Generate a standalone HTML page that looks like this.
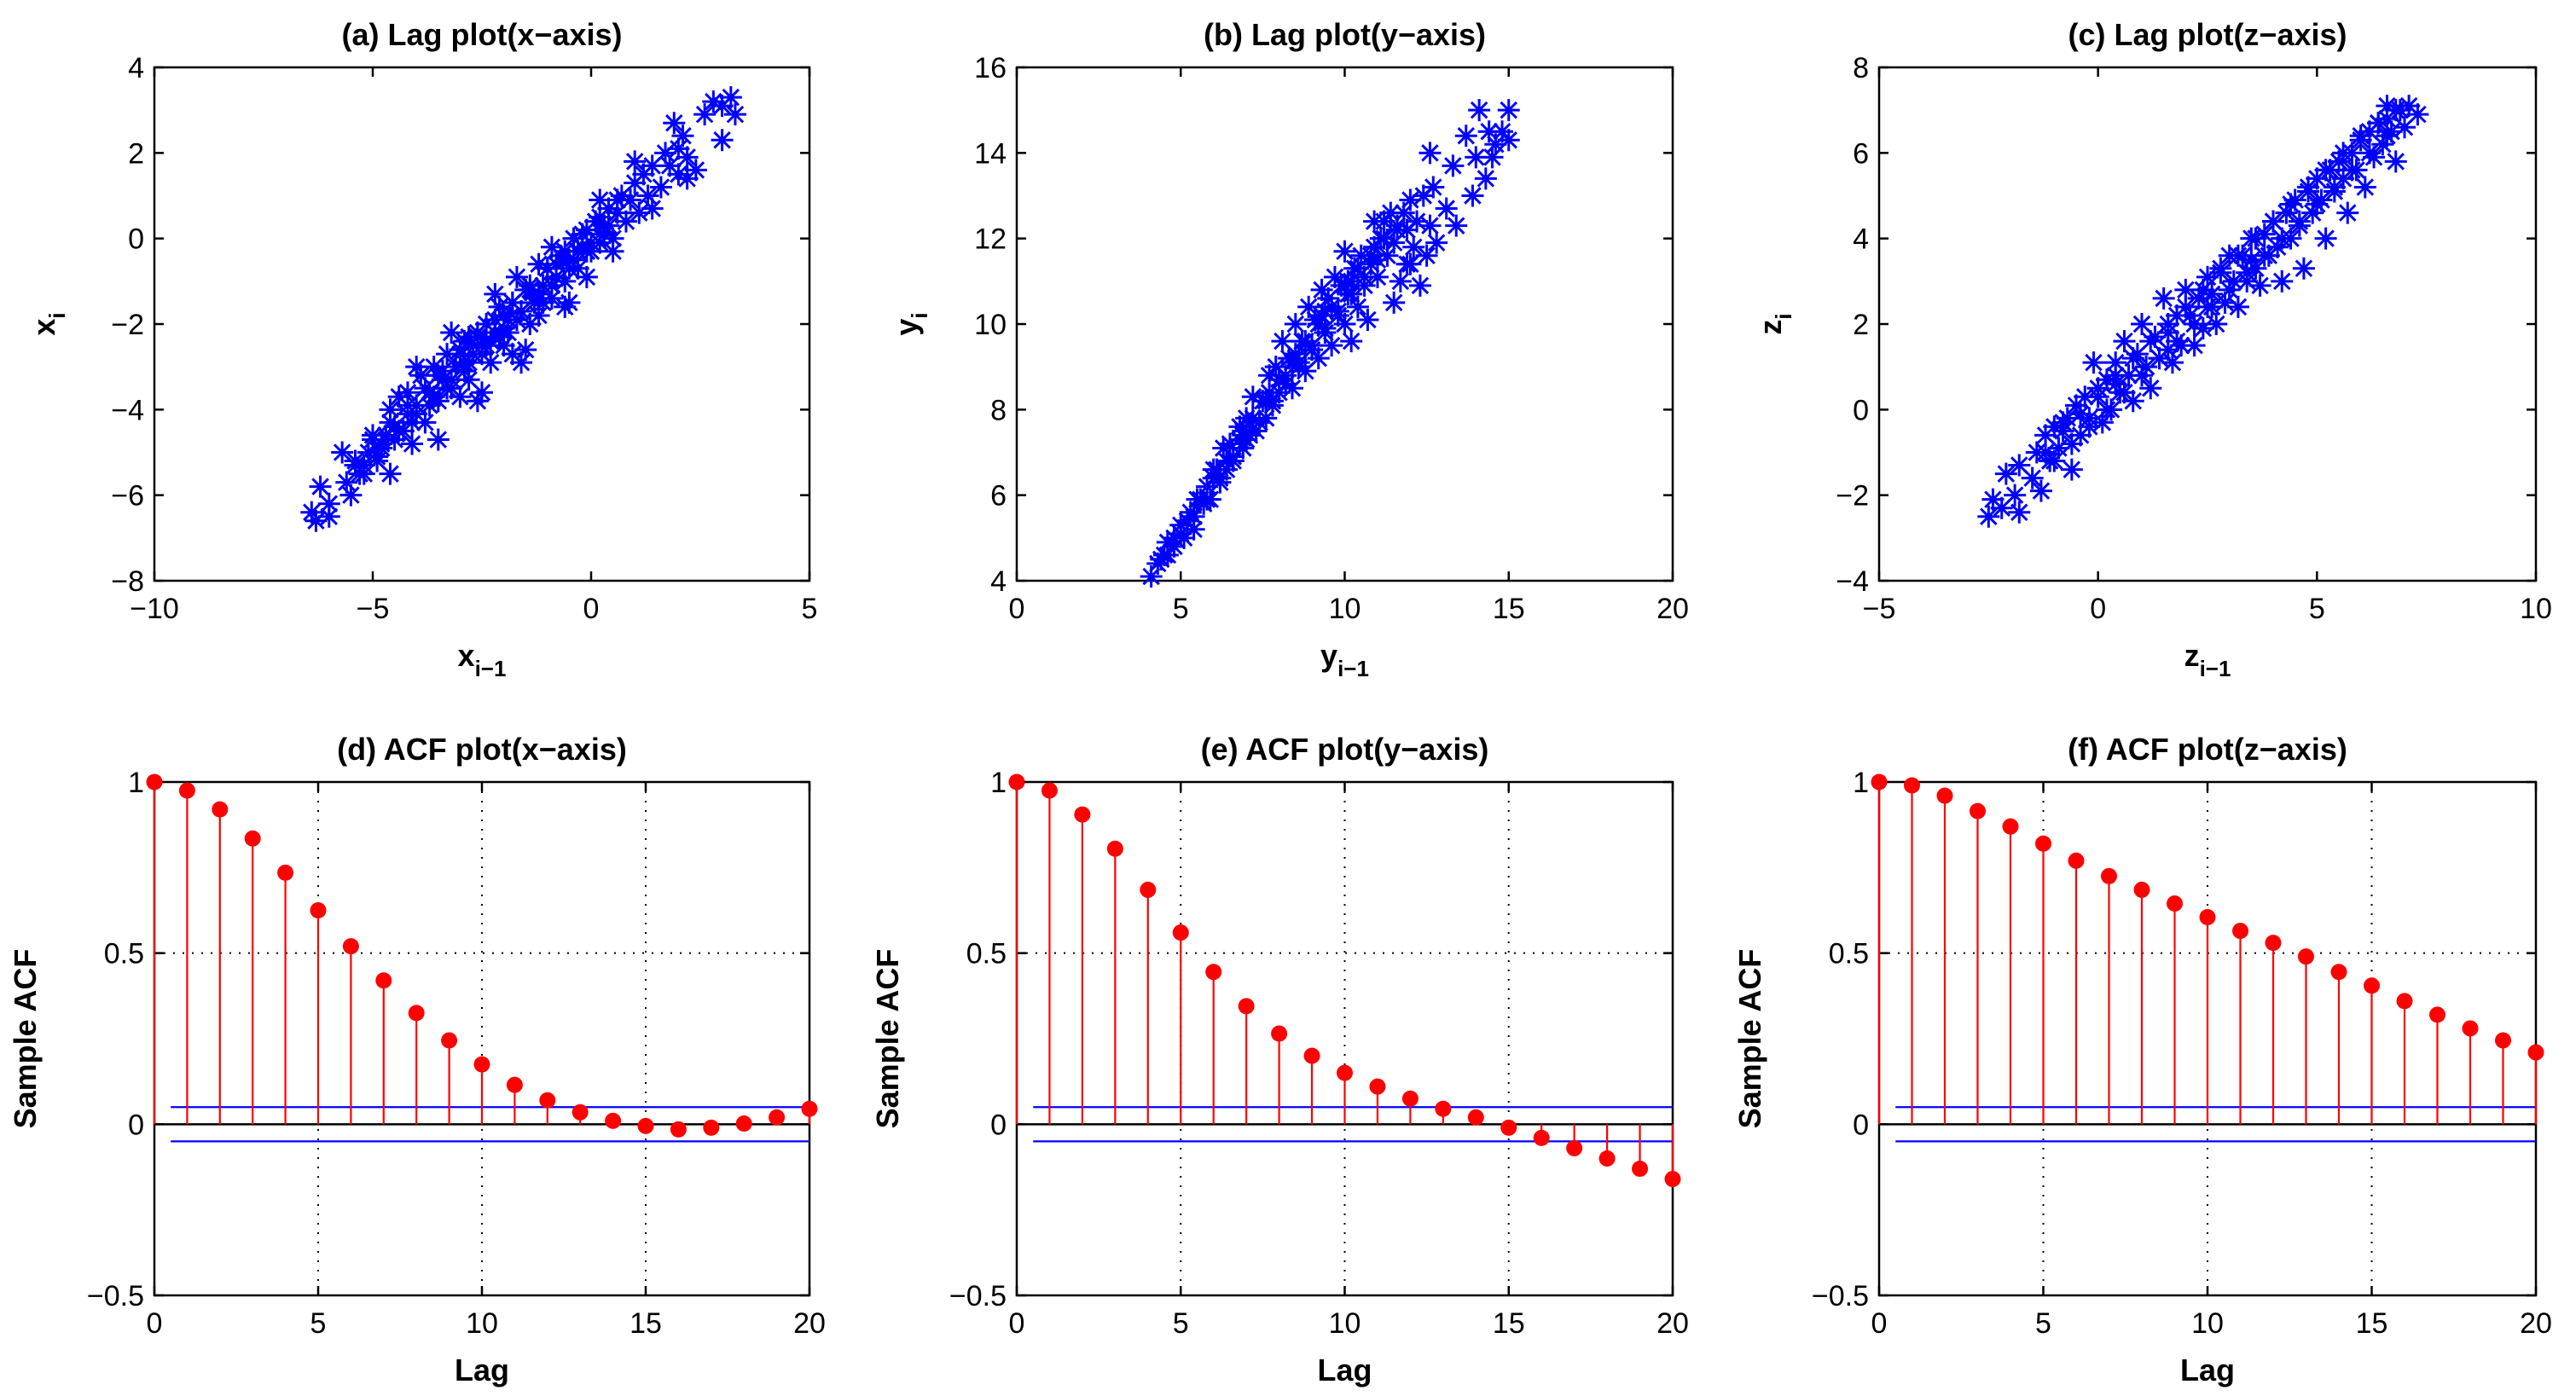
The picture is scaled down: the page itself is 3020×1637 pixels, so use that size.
<!DOCTYPE html>
<html><head><meta charset="utf-8"><style>
html,body{margin:0;padding:0;background:#fff;}
svg{display:block;font-family:"Liberation Sans",Arial,sans-serif;}
</style></head><body>
<svg id="fig" width="3020" height="1637" viewBox="0 0 3020 1637"></svg>
<script>
// ---- data ----
const lagA_prev=[-6.4,-6.3,-6.2,-6.0,-6.0,-5.7,-5.6,-5.5,-5.4,-5.2,-5.0,-4.9,-4.8,-4.6,-4.6,-4.5,-4.4,-4.3,-4.2,-4.1,-4.0,-3.9,-3.8,-3.7,-3.6,-3.5,-3.5,-3.4,-3.3,-3.2,-3.1,-3.0,-3.0,-2.9,-2.8,-2.8,-2.7,-2.6,-2.5,-2.5,-2.4,-2.3,-2.2,-2.1,-2.0,-1.9,-1.8,-1.8,-1.6,-1.6,-1.5,-1.5,-1.4,-1.3,-1.2,-1.2,-1.1,-1.0,-0.9,-0.8,-0.7,-0.6,-0.6,-0.5,-0.5,-0.4,-0.3,-0.2,-0.1,0.0,-0.1,0.1,0.2,0.2,0.3,0.4,0.5,0.5,0.6,0.7,0.8,0.9,1.0,1.0,1.1,1.2,1.3,1.4,1.4,1.6,1.7,1.8,1.9,2.0,2.0,2.1,2.2,2.4,2.2,2.6,2.8,3.0,3.0,3.2,3.3,-0.9,-2.2,-3.2,-4.0,-1.7,-2.6,-2.0,-1.4,-0.8,-3.5,-4.2,-2.3,-1.1,-3.3,-4.7,-5.1,-0.3,-2.9,-1.9];
const lagA_cur=[-6.4,-6.6,-5.8,-6.5,-6.2,-5.0,-5.7,-6.0,-5.3,-5.5,-4.6,-5.2,-4.8,-4.0,-5.5,-4.4,-3.7,-4.5,-4.1,-4.8,-3.9,-3.2,-4.3,-3.6,-3.0,-4.7,-3.8,-3.3,-2.7,-3.5,-3.0,-2.6,-3.7,-2.9,-3.3,-2.3,-2.7,-3.8,-3.6,-2.5,-2.0,-2.9,-2.2,-1.6,-2.5,-1.9,-1.5,-2.7,-1.7,-2.9,-1.2,-2.6,-2.0,-1.4,-0.6,-1.8,-1.1,-0.7,-1.4,-0.9,-0.4,-1.6,-1.0,-0.5,-1.5,0.0,-0.7,-0.2,0.2,-0.3,-0.9,0.4,-0.1,0.9,0.3,0.7,0.0,-0.3,0.6,1.0,0.4,0.9,1.3,1.8,0.6,1.5,1.0,1.7,0.7,1.2,2.0,1.7,2.7,1.5,2.1,2.4,1.9,1.6,1.4,2.9,3.2,3.1,2.3,3.3,2.9,-0.2,-1.3,-2.2,-3.0,-0.9,-2.2,-1.8,-1.2,-0.6,-3.2,-3.6,-2.4,-1.5,-3.5,-4.6,-5.0,-0.3,-2.4,-2.2];
const lagA_core_prev=[-5.4,-5.2,-5.0,-4.8,-4.6,-4.4,-4.2,-4.0,-3.8,-3.6,-3.4,-3.2,-3.0,-2.8,-2.6,-2.4,-2.2,-2.0,-1.8,-1.6,-1.4,-1.2,-1.0,-0.8,-0.6,-0.4,-0.2,0.0,0.2,0.4,0.6,-5.3,-4.9,-4.5,-4.1,-3.7,-3.3,-2.9,-2.5,-2.1,-1.7,-1.3,-0.9,-0.5,-0.1,0.3];
const lagA_core_cur=[-5.2,-5.3,-4.7,-4.9,-4.3,-4.5,-3.9,-4.1,-3.5,-3.7,-3.1,-3.3,-2.7,-2.9,-2.3,-2.5,-1.9,-2.1,-1.5,-1.7,-1.1,-1.3,-0.7,-0.9,-0.3,-0.5,0.1,-0.1,0.5,0.3,0.9,-5.5,-5.1,-4.7,-4.3,-3.9,-3.5,-3.1,-2.7,-2.3,-1.9,-1.5,-1.1,-0.7,-0.3,0.1];
const lagB_prev=[4.1,4.3,4.5,4.6,4.8,5.0,5.1,5.3,5.4,5.5,5.7,5.8,5.9,6.0,6.2,6.3,6.4,6.5,6.6,6.8,6.9,7.0,7.1,7.2,7.3,7.5,7.6,7.7,7.8,7.9,8.0,8.1,8.2,8.3,8.4,8.5,8.6,8.7,8.8,8.9,9.0,9.1,9.2,9.3,9.4,9.5,9.6,9.7,9.8,9.9,10.0,10.0,10.1,10.2,10.3,10.4,10.5,10.6,10.7,10.8,10.9,11.0,11.1,11.2,11.3,11.4,11.5,11.5,11.6,11.7,11.8,11.9,12.0,12.1,12.2,12.3,12.4,12.5,12.6,12.6,12.7,12.8,13.1,13.3,13.4,13.7,13.9,14.0,14.1,14.3,14.4,14.5,14.8,15.0,15.0,11.9,8.5,9.4,6.9,10.2,12.0,14.6];
const lagB_cur=[4.1,4.4,4.6,4.9,4.8,5.3,5.0,5.6,5.2,5.9,5.8,6.2,5.9,6.6,6.3,7.1,6.6,7.2,6.9,7.6,7.1,7.8,7.4,8.3,7.5,8.2,7.8,8.8,8.1,9.0,8.4,9.6,8.8,9.2,8.5,10.0,9.1,9.6,8.9,10.4,9.4,10.1,9.2,10.8,9.8,10.6,9.5,11.1,10.2,10.9,10.0,11.7,10.7,9.6,11.3,10.4,11.6,10.9,10.1,11.4,12.4,11.1,12.0,12.4,11.6,12.6,10.5,11.9,12.2,11.0,12.6,11.4,12.9,11.8,12.4,10.9,13.0,11.6,12.3,14.0,13.2,11.9,12.7,13.7,12.3,14.4,13.0,13.9,15.0,13.4,14.5,13.9,14.5,15.0,14.3,12.2,9.2,10.3,7.4,11.0,11.4,14.2];
const lagB_core_prev=[4.4,4.8,5.2,5.6,6.0,6.4,6.8,7.2,7.6,8.0,8.4,8.8,9.2,9.6,10.0,10.4,10.8,11.2,11.6,4.6,5.0,5.4,5.8,6.2,6.6,7.0,7.4,7.8,8.2,8.6,9.0,9.4,9.8,10.2,10.6,11.0,6.1,6.9,7.7,8.5,9.3,10.1,10.9];
const lagB_core_cur=[4.5,5.0,5.4,5.9,6.4,6.8,7.3,7.8,8.2,8.7,9.1,9.6,10.0,10.4,10.9,11.3,11.6,12.0,12.3,4.6,5.1,5.5,5.9,6.4,6.8,7.3,7.7,8.2,8.6,9.0,9.5,9.9,10.3,10.7,11.1,11.5,6.6,7.5,8.4,9.3,10.2,11.0,11.8];
const lagC_prev=[-2.5,-2.4,-2.1,-2.2,-1.9,-1.8,-1.8,-1.5,-1.4,-1.2,-1.3,-1.1,-1.0,-0.9,-0.7,-0.6,-0.5,-0.4,-0.3,-0.2,-0.1,0.0,0.1,0.2,0.3,0.4,0.5,0.6,0.7,0.8,0.9,1.0,1.1,1.2,1.3,1.4,1.5,1.6,1.7,1.8,1.9,2.0,2.1,2.2,2.3,2.4,2.5,2.6,2.7,2.8,2.9,3.0,3.1,3.2,3.3,3.4,3.5,3.6,3.7,3.8,3.9,4.0,4.1,4.2,4.3,4.4,4.5,4.6,4.7,4.8,4.9,5.0,5.1,5.2,5.3,5.4,5.5,5.6,5.7,5.8,5.9,6.0,6.1,6.2,6.3,6.4,6.5,6.6,6.7,6.8,6.9,7.0,7.1,7.3,6.6,1.6,2.5,3.5,0.4,-0.8];
const lagC_cur=[-2.5,-2.1,-1.5,-2.3,-2.0,-2.4,-1.3,-1.6,-1.0,-0.6,-1.9,-1.2,-0.4,-0.9,-0.2,-1.4,0.1,-0.6,0.3,-0.2,1.1,0.5,-0.3,0.7,0.0,1.1,0.4,1.6,0.8,0.2,1.3,2.0,1.0,0.5,1.7,1.2,2.6,1.8,1.1,2.2,1.5,2.8,2.2,1.5,2.6,1.9,3.1,2.7,2.0,3.3,2.5,3.6,3.0,2.4,3.6,3.0,4.0,3.3,2.9,4.1,3.6,4.4,3.8,3.0,4.6,4.0,4.9,4.3,3.3,5.1,4.6,5.4,4.9,4.0,5.6,5.1,5.8,5.4,4.6,6.0,5.6,6.3,5.2,6.5,5.9,6.7,6.2,6.8,6.5,5.8,7.0,6.6,7.1,6.9,7.1,1.4,2.4,3.5,0.6,-0.3];
const lagC_core_prev=[-1.2,-0.8,-0.4,0.0,0.4,0.8,1.2,1.6,2.0,2.4,2.8,3.2,3.6,4.0,4.4,4.8,5.2,5.6,6.0,6.4,6.8,-1.0,-0.6,-0.2,0.2,0.6,1.0,1.4,1.8,2.2,2.6,3.0,3.4,3.8,4.2,4.6,5.0,5.4,5.8,6.2,6.6];
const lagC_core_cur=[-1.0,-0.5,-0.1,0.3,0.8,1.2,1.6,2.0,2.4,2.8,3.2,3.6,4.0,4.4,4.8,5.2,5.6,6.0,6.4,6.7,7.0,-1.2,-0.8,-0.4,0.0,0.4,0.8,1.2,1.6,2.0,2.4,2.8,3.2,3.6,4.0,4.4,4.8,5.2,5.6,6.0,6.4];
const lags=[0,1,2,3,4,5,6,7,8,9,10,11,12,13,14,15,16,17,18,19,20];
const acfX=[1,0.975,0.92,0.835,0.735,0.625,0.52,0.42,0.325,0.245,0.175,0.115,0.07,0.035,0.01,-0.005,-0.015,-0.01,0.002,0.02,0.045];
const acfY=[1,0.975,0.905,0.805,0.685,0.56,0.445,0.345,0.265,0.2,0.15,0.11,0.075,0.045,0.02,-0.01,-0.04,-0.07,-0.1,-0.13,-0.16];
const acfZ=[1,0.99,0.96,0.915,0.87,0.82,0.77,0.725,0.685,0.645,0.605,0.565,0.53,0.49,0.445,0.405,0.36,0.32,0.28,0.245,0.21];
const confBound=[0.05];
const ticksAx=[-10,-5,0,5], ticksAy=[-8,-6,-4,-2,0,2,4];
const ticksBx=[0,5,10,15,20], ticksBy=[4,6,8,10,12,14,16];
const ticksCx=[-5,0,5,10], ticksCy=[-4,-2,0,2,4,6,8];
const ticksLag=[0,5,10,15,20], ticksAcf=[-0.5,0,0.5,1];

// ---- rendering ----
const NS="http://www.w3.org/2000/svg";
const svg=document.getElementById('fig');
function mk(tag,attrs,parent){const e=document.createElementNS(NS,tag);for(const k in attrs)e.setAttribute(k,attrs[k]);(parent||svg).appendChild(e);return e;}
function fmt(v){return v<0?'\u2212'+String(-v):String(v);}

function panel(id,L,R,T,B,xd,yd,xt,yt,title,grid){
  const g=mk('g',{});
  
  
  const sx=v=>L+(v-xd[0])/(xd[1]-xd[0])*(R-L);
  const sy=v=>B-(v-yd[0])/(yd[1]-yd[0])*(B-T);
  if(grid){
    xt.forEach(v=>{if(v>xd[0]&&v<xd[1]){const l=mk('line',{x1:sx(v),x2:sx(v),y1:T,y2:B,stroke:'#000','stroke-width':2,'stroke-dasharray':'2,9'},g);}});
    yt.forEach(v=>{if(v>yd[0]&&v<yd[1]&&v!==0){const l=mk('line',{x1:L,x2:R,y1:sy(v),y2:sy(v),stroke:'#000','stroke-width':2,'stroke-dasharray':'2,9'},g);}});
  }
  const fr=mk('rect',{x:L,y:T,width:R-L,height:B-T,fill:'none',stroke:'#000','stroke-width':2.5},g);
  
  
  xt.forEach(v=>{
    const x=sx(v);
    mk('line',{x1:x,x2:x,y1:B,y2:B-11,stroke:'#000','stroke-width':2.5},g);
    mk('line',{x1:x,x2:x,y1:T,y2:T+11,stroke:'#000','stroke-width':2.5},g);
    const t=mk('text',{x:x,y:B+44,'font-size':34,'text-anchor':'middle'},g);t.textContent=fmt(v);
    
    
  });
  yt.forEach(v=>{
    const y=sy(v);
    mk('line',{x1:L,x2:L+11,y1:y,y2:y,stroke:'#000','stroke-width':2.5},g);
    mk('line',{x1:R,x2:R-11,y1:y,y2:y,stroke:'#000','stroke-width':2.5},g);
    const t=mk('text',{x:L-12,y:y+12,'font-size':34,'text-anchor':'end'},g);t.textContent=fmt(v);
    
    
  });
  const tt=mk('text',{x:(L+R)/2,y:T-26,'font-size':36,'font-weight':'bold','text-anchor':'middle'},g);tt.textContent=title;
  
  
  return {g,sx,sy};
}

function scatter(p,xs,ys){
  xs.forEach((xv,i)=>{
    const x=p.sx(xv),y=p.sy(ys[i]),r=13,d=r*0.707;
    const m=mk('path',{d:`M${x-r},${y}H${x+r}M${x},${y-r}V${y+r}M${x-d},${y-d}L${x+d},${y+d}M${x-d},${y+d}L${x+d},${y-d}`,stroke:'#0000ff','stroke-width':3,fill:'none'},p.g);
    
    
  });
}
function axisLabels(L,R,T,B,xl,xsub,yl,ysub,ylx){
  const t=mk('text',{x:(L+R)/2,y:B+100,'font-size':36,'font-weight':'bold','text-anchor':'middle'});
  t.innerHTML=xsub?`${xl}<tspan font-size="26" dy="12">${xsub}</tspan>`:xl;
  
  
  const cy=(T+B)/2;
  const u=mk('text',{x:ylx,y:cy,'font-size':36,'font-weight':'bold','text-anchor':'middle',transform:`rotate(-90 ${ylx} ${cy})`});
  u.innerHTML=ysub?`${yl}<tspan font-size="26" dy="12">${ysub}</tspan>`:yl;
  
  
}
function acf(p,vals){
  const l0=mk('line',{x1:p.sx(0),x2:p.sx(20),y1:p.sy(0),y2:p.sy(0),stroke:'#000','stroke-width':2.5},p.g);
  
  
  [confBound[0],-confBound[0]].forEach(b=>{
    const l=mk('line',{x1:p.sx(0.5),x2:p.sx(20),y1:p.sy(b),y2:p.sy(b),stroke:'#0000ff','stroke-width':2.2},p.g);
    
    
  });
  vals.forEach((v,i)=>{
    const x=p.sx(lags[i]);
    const s=mk('line',{x1:x,x2:x,y1:p.sy(0),y2:p.sy(v),stroke:'#ff0000','stroke-width':2.2},p.g);
    
    
    const c=mk('circle',{cx:x,cy:p.sy(v),r:9.5,fill:'#ff0000'},p.g);
    
    
  });
}
const cols=[[181,949],[1192,1961],[2203,2973]];
const rowTop=[79,681], rowBot=[917,1519];
let pan;
pan=panel('lag-plot-x',cols[0][0],cols[0][1],rowTop[0],rowTop[1],[-10,5],[-8,4],ticksAx,ticksAy,'(a) Lag plot(x\u2212axis)',false);
scatter(pan,lagA_prev,lagA_cur);
scatter(pan,lagA_core_prev,lagA_core_cur);
axisLabels(cols[0][0],cols[0][1],rowTop[0],rowTop[1],'x','i\u22121','x','i',64);
pan=panel('lag-plot-y',cols[1][0],cols[1][1],rowTop[0],rowTop[1],[0,20],[4,16],ticksBx,ticksBy,'(b) Lag plot(y\u2212axis)',false);
scatter(pan,lagB_prev,lagB_cur);
scatter(pan,lagB_core_prev,lagB_core_cur);
axisLabels(cols[1][0],cols[1][1],rowTop[0],rowTop[1],'y','i\u22121','y','i',1075);
pan=panel('lag-plot-z',cols[2][0],cols[2][1],rowTop[0],rowTop[1],[-5,10],[-4,8],ticksCx,ticksCy,'(c) Lag plot(z\u2212axis)',false);
scatter(pan,lagC_prev,lagC_cur);
scatter(pan,lagC_core_prev,lagC_core_cur);
axisLabels(cols[2][0],cols[2][1],rowTop[0],rowTop[1],'z','i\u22121','z','i',2088);
const acfs=[acfX,acfY,acfZ], axisNames=['x','y','z'], letters=['d','e','f'], ylxs=[42,1053,2064];
for(let k=0;k<3;k++){
  pan=panel('acf-plot-'+axisNames[k],cols[k][0],cols[k][1],rowBot[0],rowBot[1],[0,20],[-0.5,1],ticksLag,ticksAcf,`(${letters[k]}) ACF plot(${axisNames[k]}\u2212axis)`,true);
  acf(pan,acfs[k]);
  axisLabels(cols[k][0],cols[k][1],rowBot[0],rowBot[1],'Lag','','Sample ACF','',ylxs[k]);
}
</script>
</body></html>
